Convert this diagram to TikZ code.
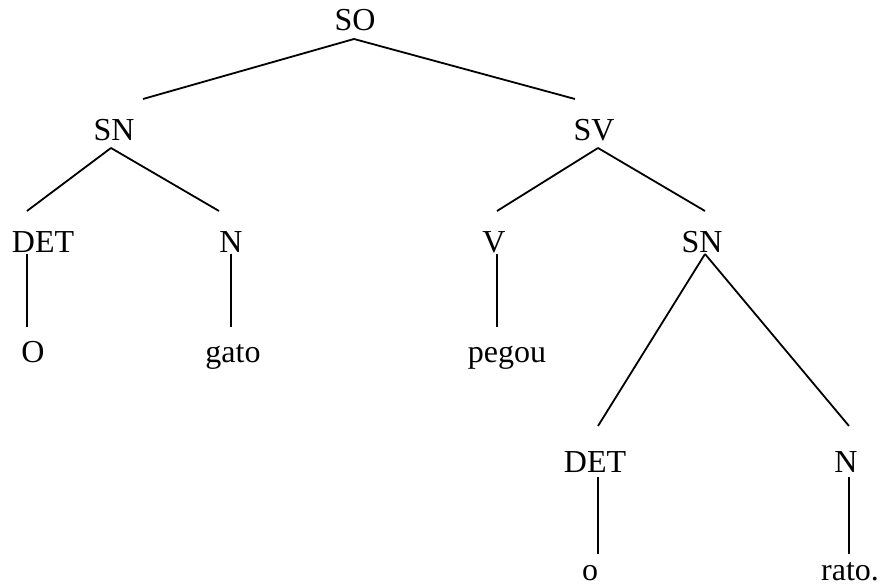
\documentclass[tikz,border=0pt]{standalone}
\usepackage{fontspec}
\setmainfont{Liberation Serif}
\newfontfamily\treefont{Liberation Serif}
\begin{document}
\begin{tikzpicture}[x=1pt,y=-1pt,
  lbl/.style={anchor=base,inner sep=0pt,font=\treefont\fontsize{32}{32}\selectfont},
  edge/.style={line width=1.8pt}]
\useasboundingbox (0,0) rectangle (880,585);
% labels, placed on their baselines
\node[lbl] (SO)    at (355,31)  {SO};
\node[lbl] (SNa)   at (114,141) {SN};
\node[lbl] (SV)    at (594,141) {SV};
\node[lbl] (DETa)  at (43,252)  {DET};
\node[lbl] (Na)    at (231,252) {N};
\node[lbl] (V)     at (494,252) {V};
\node[lbl] (SNb)   at (702,252) {SN};
\node[lbl] (Oa)    at (33,362)  {O};
\node[lbl] (gato)  at (233,362) {gato};
\node[lbl] (pegou) at (507,362) {pegou};
\node[lbl] (DETb)  at (595,472) {DET};
\node[lbl] (Nb)    at (846,472) {N};
\node[lbl] (ob)    at (590,580) {o};
\node[lbl] (rato)  at (850,580) {rato.};
% branches
\draw[edge] ([shift={(-1,8)}]SO.base)   -- ([shift={(29,-42)}]SNa.base);
\draw[edge] ([shift={(-1,8)}]SO.base)   -- ([shift={(-19,-42)}]SV.base);
\draw[edge] ([shift={(-3,7)}]SNa.base)  -- ([shift={(-16,-41)}]DETa.base);
\draw[edge] ([shift={(-3,7)}]SNa.base)  -- ([shift={(-12,-41)}]Na.base);
\draw[edge] ([shift={(4,7)}]SV.base)    -- ([shift={(3,-41)}]V.base);
\draw[edge] ([shift={(4,7)}]SV.base)    -- ([shift={(3,-41)}]SNb.base);
\draw[edge] ([shift={(-16,2)}]DETa.base) -- ([shift={(-6,-35)}]Oa.base);
\draw[edge] ([shift={(0,2)}]Na.base)    -- ([shift={(-2,-35)}]gato.base);
\draw[edge] ([shift={(3,2)}]V.base)     -- ([shift={(-10,-35)}]pegou.base);
\draw[edge] ([shift={(3,2)}]SNb.base)   -- ([shift={(3,-46)}]DETb.base);
\draw[edge] ([shift={(3,2)}]SNb.base)   -- ([shift={(3,-46)}]Nb.base);
\draw[edge] ([shift={(3,5)}]DETb.base)  -- ([shift={(8,-26)}]ob.base);
\draw[edge] ([shift={(3,5)}]Nb.base)    -- ([shift={(-1,-26)}]rato.base);
\end{tikzpicture}
\end{document}
